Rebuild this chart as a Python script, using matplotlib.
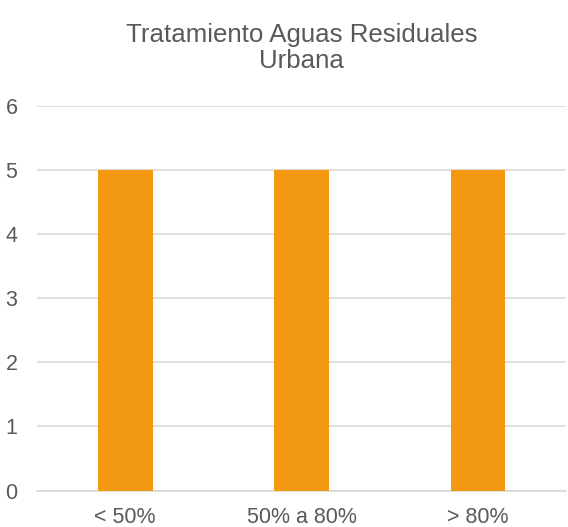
import numpy as np
import matplotlib.pyplot as plt

plt.rcParams['font.family'] = ['Liberation Sans', 'DejaVu Sans']

categories = ['< 50%', '50% a 80%', '> 80%']
values = [5, 5, 5]
yticks = [0, 1, 2, 3, 4, 5, 6]

fig = plt.figure(figsize=(5.68, 5.27), dpi=100)
ax = fig.add_axes([0.065, 0.069, 0.932, 0.7305])

x = np.arange(len(categories))
ax.bar(x, values, width=0.31, color='#F39811', zorder=3)

ax.set_xlim(-0.5, len(categories) - 0.5)
ax.set_ylim(0, 6)
ax.set_yticks(yticks)
ax.set_xticks(x)
ax.set_xticklabels(categories)
ax.grid(axis='y', color='#d9d9d9', linewidth=1.2, zorder=0)
ax.tick_params(axis='both', length=0, labelsize=15.5, colors='#595959')
ax.tick_params(axis='y', pad=14)
ax.tick_params(axis='x', pad=12)
for s in ax.spines.values():
    s.set_visible(False)
ax.spines['bottom'].set_visible(True)
ax.spines['bottom'].set_color('#d9d9d9')
ax.spines['bottom'].set_linewidth(1.2)

fig.text(0.531, 0.909, 'Tratamiento Aguas Residuales\nUrbana', ha='center', va='center',
         fontsize=18.6, color='#595959', linespacing=1.15)

fig.savefig('out.png', dpi=100)
